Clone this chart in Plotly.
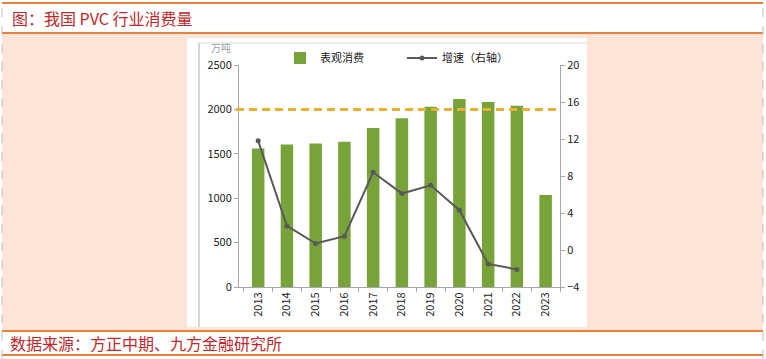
import plotly.graph_objects as go

years = ["2013", "2014", "2015", "2016", "2017", "2018", "2019", "2020", "2021", "2022", "2023"]
consumption = [1561, 1606, 1617, 1636, 1790, 1899, 2029, 2116, 2082, 2041, 1035]
growth_years = ["2013", "2014", "2015", "2016", "2017", "2018", "2019", "2020", "2021", "2022"]
growth = [11.8, 2.6, 0.7, 1.5, 8.4, 6.1, 7.0, 4.3, -1.5, -2.1]
ref_level = 2000
left_ticks = [0, 500, 1000, 1500, 2000, 2500]
right_ticks = [-4, 0, 4, 8, 12, 16, 20]

W, H = 766, 359
FONT = "Noto Sans CJK SC"


def px(x):
    return x / W


def py(y):
    return 1 - y / H


fig = go.Figure()
fig.add_trace(go.Bar(
    x=years, y=consumption, name="表观消费",
    marker=dict(color="#78a23a", line=dict(width=0)),
    yaxis="y",
))
fig.add_trace(go.Scatter(
    x=growth_years, y=growth, name="增速（右轴）", mode="lines+markers",
    line=dict(color="#595959", width=2),
    marker=dict(color="#595959", size=5, symbol="circle"),
    yaxis="y2",
))

shapes = []
shapes.append(dict(type="rect", xref="paper", yref="paper", x0=px(2), x1=px(763), y0=py(331), y1=py(34),
                   fillcolor="#fde4d6", line=dict(width=0), layer="below"))
shapes.append(dict(type="rect", xref="paper", yref="paper", x0=px(187), x1=px(587), y0=py(327), y1=py(38),
                   fillcolor="#ffffff", line=dict(width=0), layer="below"))
shapes.append(dict(type="line", xref="paper", yref="paper", x0=px(199), x1=px(199), y0=py(327), y1=py(43),
                   line=dict(color="#c8c8c8", width=1.5), layer="below"))
shapes.append(dict(type="line", xref="paper", yref="paper", x0=px(199), x1=px(587), y0=py(43), y1=py(43),
                   line=dict(color="#d8d8d8", width=1), layer="below"))
for yy in [3, 33, 331, 355]:
    shapes.append(dict(type="line", xref="paper", yref="paper", x0=px(2), x1=px(763), y0=py(yy), y1=py(yy),
                       line=dict(color="#e8803a", width=2)))
for xx in [2, 763]:
    shapes.append(dict(type="line", xref="paper", yref="paper", x0=px(xx), x1=px(xx), y0=0, y1=1,
                       line=dict(color="#bdbdbd", width=1, dash="dash")))
shapes.append(dict(type="line", xref="paper", yref="y", x0=px(236), x1=px(559), y0=ref_level, y1=ref_level,
                   line=dict(color="#e9b132", width=3, dash="8px,5px")))

annotations = [
    dict(text="图：我国 PVC 行业消费量", xref="paper", yref="paper", x=px(10), y=py(18),
         xanchor="left", yanchor="middle", showarrow=False,
         font=dict(family=FONT, size=16, color="#c0282c")),
    dict(text="数据来源：方正中期、九方金融研究所", xref="paper", yref="paper", x=px(8), y=py(343),
         xanchor="left", yanchor="middle", showarrow=False,
         font=dict(family=FONT, size=16, color="#c0282c")),
    dict(text="万吨", xref="paper", yref="paper", x=px(221), y=py(48),
         xanchor="center", yanchor="middle", showarrow=False,
         font=dict(family=FONT, size=10, color="#a0a0a0")),
]

axis_line = "#a6a6a6"
fig.update_layout(
    width=W, height=H,
    margin=dict(l=0, r=0, t=0, b=0, autoexpand=False),
    paper_bgcolor="#ffffff",
    plot_bgcolor="rgba(0,0,0,0)",
    font=dict(family=FONT, size=11, color="#222222"),
    bargap=0.565,
    showlegend=True,
    legend=dict(orientation="h", x=px(280), y=py(58), xanchor="left", yanchor="middle",
                bgcolor="rgba(0,0,0,0)", font=dict(family=FONT, size=11, color="#222222"),
                entrywidth=77, entrywidthmode="pixels", itemwidth=30),
    xaxis=dict(domain=[px(239), px(560)], type="category", tickangle=-90,
               showline=True, linecolor=axis_line, linewidth=1,
               ticks="outside", tickson="boundaries", ticklen=4, tickcolor=axis_line,
               showgrid=False, tickfont=dict(size=11, color="#222222")),
    yaxis=dict(domain=[py(287), py(65)], range=[0, 2500], tickvals=left_ticks,
               showline=True, linecolor=axis_line, linewidth=1,
               ticks="outside", ticklen=4, tickcolor=axis_line,
               showgrid=False, zeroline=False, tickfont=dict(size=11, color="#222222")),
    yaxis2=dict(overlaying="y", side="right", anchor="x", range=[-4, 20], tickvals=right_ticks,
                showline=True, linecolor=axis_line, linewidth=1,
                ticks="outside", ticklen=4, tickcolor=axis_line,
                showgrid=False, zeroline=False, tickfont=dict(size=11, color="#222222")),
    shapes=shapes,
    annotations=annotations,
)

fig.write_html("out.html", config={"displayModeBar": False},
               post_script="document.body.style.margin='0px';")
